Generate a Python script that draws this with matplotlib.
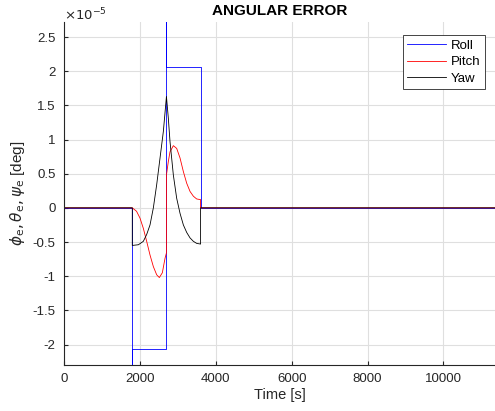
import matplotlib
matplotlib.use('Agg')
import matplotlib.pyplot as plt

plt.rcParams['font.family'] = ['Liberation Sans', 'DejaVu Sans']
plt.rcParams['mathtext.fontset'] = 'dejavusans'

SCALE = 1e-5

# Roll error (x 1e-5 deg): square pulses with spikes at the switch times
tRoll = [0, 1800, 1800, 1800, 2700, 2700, 2700, 3600, 3600, 11360]
roll = [0, 0, -4.0, -2.07, -2.07, 4.0, 2.06, 2.06, 0, 0]

# Pitch error (x 1e-5 deg)
tPitch = [0, 1800, 1912, 2003, 2091, 2179, 2267, 2355, 2443, 2513, 2592,
          2662, 2700, 2700, 2750, 2794, 2882, 2970, 3058, 3146, 3234, 3322,
          3410, 3497, 3600, 3600, 11360]
pitch = [0, 0, -0.05, -0.15, -0.30, -0.49, -0.69, -0.86, -0.98, -1.02, -0.95,
         -0.74, -0.66, 0.48, 0.68, 0.82, 0.91, 0.87, 0.73, 0.53, 0.36, 0.24,
         0.17, 0.13, 0.12, 0, 0]

# Yaw error (x 1e-5 deg)
tYaw = [0, 1800, 1800, 1960, 2091, 2179, 2267, 2355, 2443, 2531, 2619, 2700,
        2750, 2794, 2882, 2970, 3058, 3146, 3234, 3322, 3410, 3497, 3600,
        3600, 11360]
yaw = [0, 0, -0.55, -0.54, -0.49, -0.39, -0.25, 0.0, 0.34, 0.73, 1.12, 1.63,
       1.31, 0.97, 0.48, 0.14, -0.08, -0.25, -0.36, -0.44, -0.49, -0.52, -0.53,
       0, 0]

xTicks = [0, 2000, 4000, 6000, 8000, 10000]
yTicks = [-2, -1.5, -1, -0.5, 0, 0.5, 1, 1.5, 2, 2.5]

fig = plt.figure(figsize=(4.95, 4.11), dpi=100)
ax = fig.add_axes([0.1293, 0.1119, 0.8707, 0.8346])

ax.plot(tRoll, [v * SCALE for v in roll], color='#0000ff', lw=0.6, label='Roll')
ax.plot(tPitch, [v * SCALE for v in pitch], color='#ff0000', lw=0.6, label='Pitch')
ax.plot(tYaw, [v * SCALE for v in yaw], color='#000000', lw=0.6, label='Yaw')

ax.set_xlim(0, 11360)
ax.set_ylim(-2.30 * SCALE, 2.72 * SCALE)
ax.set_xticks(xTicks)
ax.set_xticklabels([str(t) for t in xTicks])
ax.set_yticks([v * SCALE for v in yTicks])
ax.set_yticklabels([('%g' % v) for v in yTicks])

ax.grid(True, color='#dfdfdf', lw=0.8)
ax.set_axisbelow(True)
for side in ['top', 'right']:
    ax.spines[side].set_visible(False)
for side in ['left', 'bottom']:
    ax.spines[side].set_color('#262626')
    ax.spines[side].set_linewidth(0.8)
ax.tick_params(direction='in', length=3, colors='#262626', labelsize=9.5, pad=6)

ax.set_xlabel('Time [s]', fontsize=10.5, color='#262626', labelpad=2)
ax.set_ylabel(r'$\phi_{\rm e},\theta_{\rm e},\psi_{\rm e}$ [deg]', fontsize=11,
              color='#262626', labelpad=4)
ax.set_title('ANGULAR ERROR', fontsize=11, fontweight='bold', pad=5)
fig.text(64 / 495, 1 - 15 / 411, r'$\times10^{-5}$', fontsize=9.5,
         color='#262626', va='center', ha='left')

leg = ax.legend(loc='upper right', bbox_to_anchor=(0.977, 0.962), fontsize=9.5,
                fancybox=False, framealpha=1, edgecolor='#262626',
                handlelength=2.9, borderpad=0.35, labelspacing=0.32,
                handletextpad=0.4, borderaxespad=0)
leg.get_frame().set_linewidth(0.6)

fig.savefig('out.png', dpi=100)
